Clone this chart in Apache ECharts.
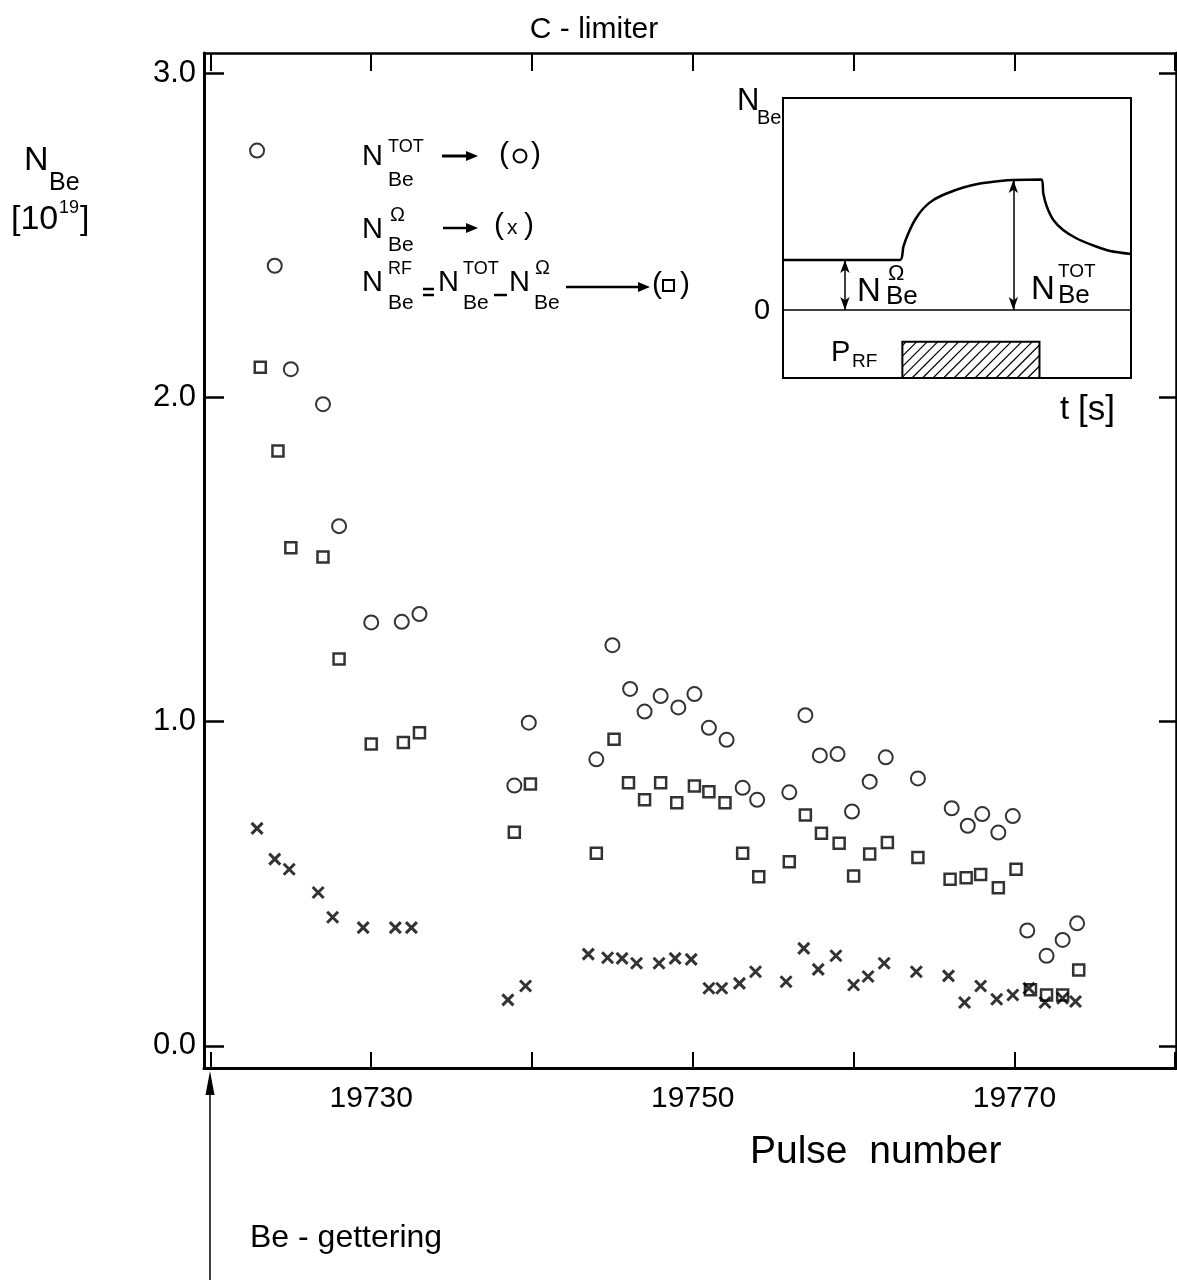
<!DOCTYPE html>
<html><head><meta charset="utf-8">
<script src="https://cdn.jsdelivr.net/npm/echarts@6/dist/echarts.min.js"></script>
<style>html,body{margin:0;padding:0;background:#fff}#c{width:1177px;height:1280px}</style>
</head><body><div id="c"></div>
<script>
// ---- main data ----
const pulseTot = [19722.9,19724.0,19725.0,19727.0,19728.0,19730.0,19731.9,19733.0,19738.9,19739.8,19744.0,19745.0,19746.1,19747.0,19748.0,19749.1,19750.1,19751.0,19752.1,19753.1,19754.0,19756.0,19757.0,19757.9,19759.0,19759.9,19761.0,19762.0,19764.0,19766.1,19767.1,19768.0,19769.0,19769.9,19770.8,19772.0,19773.0,19773.9];
const nTot = [2.761,2.406,2.087,1.979,1.603,1.306,1.308,1.332,0.803,0.997,0.884,1.236,1.101,1.031,1.079,1.044,1.085,0.981,0.944,0.796,0.759,0.782,1.020,0.896,0.900,0.723,0.815,0.890,0.825,0.733,0.679,0.715,0.658,0.709,0.356,0.278,0.327,0.378];
const pulseRf = [19723.1,19724.2,19725.0,19727.0,19728.0,19730.0,19732.0,19733.0,19738.9,19739.9,19744.0,19745.1,19746.0,19747.0,19748.0,19749.0,19750.1,19751.0,19752.0,19753.1,19754.1,19756.0,19757.0,19758.0,19759.1,19760.0,19761.0,19762.1,19764.0,19766.0,19767.0,19767.9,19769.0,19770.1,19771.0,19772.0,19773.0,19774.0];
const nRf = [2.093,1.835,1.536,1.508,1.193,0.931,0.936,0.966,0.659,0.808,0.594,0.946,0.812,0.759,0.812,0.750,0.802,0.784,0.750,0.594,0.522,0.568,0.712,0.656,0.625,0.524,0.592,0.627,0.581,0.514,0.519,0.529,0.488,0.545,0.173,0.157,0.157,0.234];
const pulseOhm = [19722.9,19724.0,19724.9,19726.7,19727.6,19729.5,19731.5,19732.5,19738.5,19739.6,19743.5,19744.7,19745.6,19746.5,19747.9,19748.9,19749.9,19751.0,19751.8,19752.9,19753.9,19755.8,19756.9,19757.8,19758.9,19760.0,19760.9,19761.9,19763.9,19765.9,19766.9,19767.9,19768.9,19769.9,19770.9,19771.9,19773.0,19773.8];
const nOhm = [0.671,0.576,0.545,0.473,0.397,0.365,0.365,0.365,0.142,0.185,0.283,0.272,0.270,0.255,0.255,0.270,0.267,0.178,0.178,0.193,0.229,0.198,0.301,0.236,0.278,0.188,0.214,0.255,0.229,0.216,0.134,0.185,0.144,0.157,0.178,0.134,0.147,0.137];
const xTicks = [19720,19730,19740,19750,19760,19770,19780];
const xLabels = [19730,19750,19770];
const yTicks = [0,1,2,3];

// ---- inset schematic (arbitrary units) ----
const insetT = [0,33.6,34.6,36.0,37.9,40.3,43.2,47.0,51.8,56.6,62.4,66.2,74.3,74.8,75.8,77.7,80.5,84.4,89.2,94.0,100];
const insetN = [1.0,1.0,1.27,1.53,1.8,2.03,2.2,2.33,2.45,2.53,2.58,2.6,2.61,2.33,2.07,1.8,1.6,1.43,1.29,1.18,1.12];
const zeroT = [0,100];
const zeroN = [0,0];
const rfPulse = [34.3,73.7,-1.36,-0.633]; // t start, t end, bottom, top
const ohmArrow = [17.8,1.0];
const totArrow = [66.2,2.6];

const zip = (a,b)=>a.map((v,i)=>[v,b[i]]);
const FONT = "'Liberation Sans', Arial, sans-serif";
const chart = echarts.init(document.getElementById('c'), null, {renderer:'canvas'});

function T(text,x,y,size,align){
  return {type:'text', x:x, y:y, silent:true,
    style:{text:text, fill:'#000', font: size+'px '+FONT, textAlign:align||'left', textVerticalAlign:'middle'}};
}
function L(x1,y1,x2,y2,w){
  return {type:'line', silent:true, shape:{x1:x1,y1:y1,x2:x2,y2:y2}, style:{stroke:'#000', lineWidth:w}};
}
function arrowRight(x0,x1,y,w){
  return [
    L(x0,y,x1-8,y,w),
    {type:'polygon', silent:true, shape:{points:[[x1-12,y-5],[x1,y],[x1-12,y+5]]}, style:{fill:'#000'}}
  ];
}

const hidden = {show:false};
const graphics = [
  T('C - limiter', 594, 30, 30, 'center'),
  // y title
  T('N', 24, 161, 34), T('Be', 49, 183, 25),
  T('[10', 11, 220, 34), T('19', 59, 208, 18), T(']', 80, 220, 34),
  // legend line 1
  T('N', 362, 157, 29), T('TOT', 388, 147, 18), T('Be', 388, 180, 21),
  ...arrowRight(442, 478, 156, 3),
  T('(', 499, 155, 30), {type:'circle', silent:true, shape:{cx:520, cy:156, r:6.5}, style:{fill:'none', stroke:'#000', lineWidth:2}}, T(')', 531, 155, 30),
  // legend line 2
  T('N', 362, 230, 29), T('\u03A9', 390, 215, 20), T('Be', 388, 245, 21),
  ...arrowRight(443, 478, 228, 2.5),
  T('(', 494, 226, 30), T('x', 507, 228, 21), T(')', 524, 226, 30),
  // legend line 3
  T('N', 362, 283, 29), T('RF', 388, 269, 18), T('Be', 388, 303, 21),
  L(423, 289, 434, 289, 2.5), L(423, 295, 434, 295, 2.5),
  T('N', 438, 283, 29), T('TOT', 463, 269, 18), T('Be', 463, 303, 21),
  L(494, 295, 507, 295, 2.5),
  T('N', 509, 283, 29), T('\u03A9', 535, 268, 20), T('Be', 534, 303, 21),
  ...arrowRight(566, 650, 287, 2.5),
  T('(', 652, 285, 30), {type:'rect', silent:true, shape:{x:663,y:280,width:11,height:11}, style:{fill:'none', stroke:'#000', lineWidth:2}}, T(')', 680, 285, 30),
  // inset labels
  T('N', 737, 101, 31), T('Be', 757, 118, 20),
  T('0', 754, 311, 29),
  T('N', 857, 292, 33), T('\u03A9', 888, 274, 22), T('Be', 886, 297, 26),
  T('N', 1031, 290, 33), T('TOT', 1058, 272, 19), T('Be', 1058, 296, 26),
  T('P', 831, 353, 29), T('RF', 852, 362, 19),
  T('t', 1060, 410, 33), T('[s]', 1078, 410, 35),
  // x axis name and annotation
  T('Pulse  number', 750, 1152, 39),
  T('Be - gettering', 250, 1238, 32),
  L(210, 1090, 210, 1280, 1.5),
  {type:'polygon', silent:true, shape:{points:[[210,1071],[205.5,1095],[214.5,1095]]}, style:{fill:'#000'}}
];

const axisLineStyle = w => ({show:true, onZero:false, lineStyle:{color:'#000', width:w}});

const option = {
  backgroundColor:'#fff',
  animation:false,
  textStyle:{fontFamily:FONT},
  grid:[
    {left:204, right:1, top:53, bottom:212, containLabel:false},
    {left:783, top:98, width:348, height:280, show:true, borderColor:'#000', borderWidth:2, backgroundColor:'#fff'}
  ],
  xAxis:[
    {type:'value', gridIndex:0, position:'bottom', min:19719.6, max:19780.05,
     axisLine:axisLineStyle(3), splitLine:hidden,
     axisTick:{show:true, inside:true, length:16, customValues:xTicks, lineStyle:{color:'#000', width:2}},
     axisLabel:{show:true, customValues:xLabels, margin:16, fontSize:30, color:'#000', fontFamily:FONT, formatter:v=>String(v)}},
    {type:'value', gridIndex:0, position:'top', min:19719.6, max:19780.05,
     axisLine:axisLineStyle(2.5), splitLine:hidden,
     axisTick:{show:true, inside:true, length:18, customValues:xTicks, lineStyle:{color:'#000', width:2}},
     axisLabel:{show:false}},
    {type:'value', gridIndex:1, min:0, max:100, show:false}
  ],
  yAxis:[
    {type:'value', gridIndex:0, position:'left', min:-0.068, max:3.062,
     axisLine:axisLineStyle(3), splitLine:hidden,
     axisTick:{show:true, inside:true, length:20, customValues:yTicks, lineStyle:{color:'#000', width:2.5}},
     axisLabel:{show:true, customValues:yTicks, margin:8, fontSize:31, color:'#000', fontFamily:FONT, formatter:v=>v.toFixed(1)}},
    {type:'value', gridIndex:0, position:'right', min:-0.068, max:3.062,
     axisLine:axisLineStyle(2.5), splitLine:hidden,
     axisTick:{show:true, inside:true, length:17, customValues:yTicks, lineStyle:{color:'#000', width:2.5}},
     axisLabel:{show:false}},
    {type:'value', gridIndex:1, min:-1.36, max:4.24, show:false}
  ],
  series:[
    {name:'RF', type:'scatter', xAxisIndex:0, yAxisIndex:0, data:zip(pulseRf,nRf), symbol:'rect', symbolSize:11,
     itemStyle:{color:'rgba(255,255,255,0)', borderColor:'#000', borderWidth:2.5}, emphasis:{disabled:true}, z:3},
    {name:'TOT', type:'scatter', xAxisIndex:0, yAxisIndex:0, data:zip(pulseTot,nTot), symbol:'circle', symbolSize:14,
     itemStyle:{color:'rgba(255,255,255,0)', borderColor:'#000', borderWidth:2}, emphasis:{disabled:true}, z:3},
    {name:'Ohm', type:'scatter', xAxisIndex:0, yAxisIndex:0, data:zip(pulseOhm,nOhm), symbol:'path://M0,0L10,10M10,0L0,10', symbolSize:11,
     itemStyle:{color:'rgba(255,255,255,0)', borderColor:'#000', borderWidth:3}, emphasis:{disabled:true}, z:3},
    // inset
    {type:'line', xAxisIndex:2, yAxisIndex:2, data:zip(zeroT,zeroN), showSymbol:false, symbol:'none',
     lineStyle:{color:'#000', width:1.5}, silent:true, z:4,
     markLine:{silent:true, symbol:['arrow','arrow'], symbolSize:[7,13], label:{show:false},
       lineStyle:{color:'#000', width:1.5, type:'solid'},
       data:[
         [{coord:[ohmArrow[0],0]},{coord:[ohmArrow[0],ohmArrow[1]]}],
         [{coord:[totArrow[0],0]},{coord:[totArrow[0],totArrow[1]]}]
       ]}},
    {type:'line', xAxisIndex:2, yAxisIndex:2, data:zip(insetT,insetN), showSymbol:false, symbol:'none', smooth:0.25,
     lineStyle:{color:'#000', width:2.5}, silent:true, z:4},
    {type:'custom', xAxisIndex:2, yAxisIndex:2, data:[rfPulse], silent:true, clip:false, z:4,
     encode:{x:[0,1], y:[2,3]},
     renderItem:(params, api)=>{
       const p0 = api.coord([api.value(0), api.value(3)]);
       const p1 = api.coord([api.value(1), api.value(2)]);
       const x0=p0[0], y0=p0[1], x1=p1[0], y1=p1[1];
       const h = y1-y0, s = 10.5;
       const children=[{type:'rect', shape:{x:x0,y:y0,width:x1-x0,height:h}, style:{fill:'#fff', stroke:'#000', lineWidth:2}}];
       for (let a = x0 - h + 4; a < x1; a += s){
         const t0 = Math.max(0, x0-a), t1 = Math.min(h, x1-a);
         if (t1 <= t0) continue;
         children.push({type:'line', shape:{x1:a+t0, y1:y1-t0, x2:a+t1, y2:y1-t1}, style:{stroke:'#000', lineWidth:1.2}});
       }
       return {type:'group', children};
     }}
  ],
  graphic:{elements:graphics}
};
chart.setOption(option);
</script></body></html>
